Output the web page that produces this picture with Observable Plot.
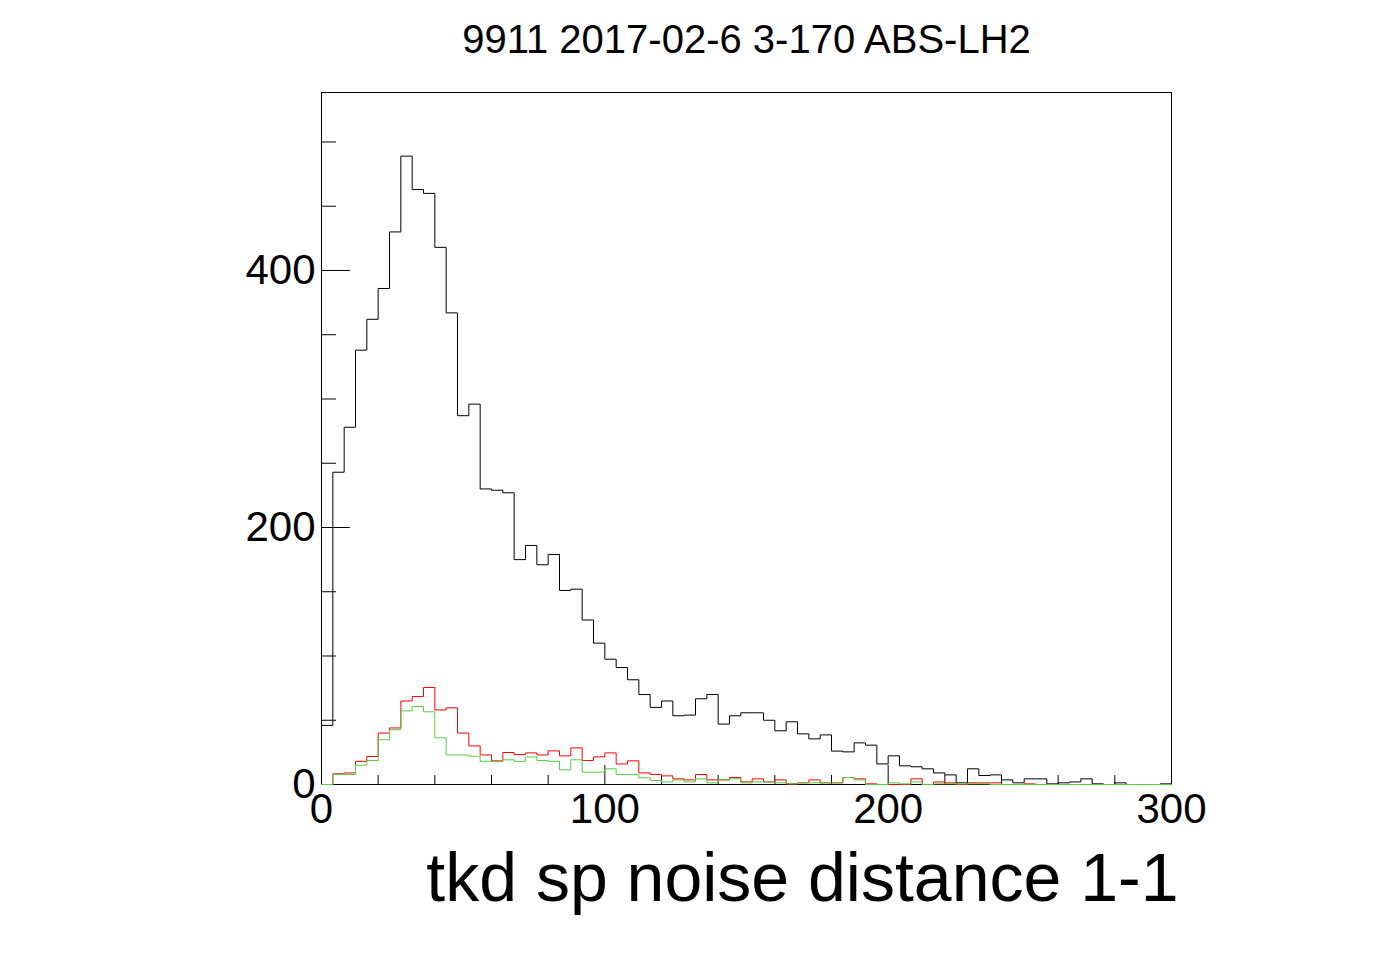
<!DOCTYPE html>
<html>
<head>
<meta charset="utf-8">
<script src="https://cdn.jsdelivr.net/npm/d3@7"></script>
<script src="https://cdn.jsdelivr.net/npm/@observablehq/plot@0.6"></script>
<style>body{margin:0;background:#fff;}</style>
</head>
<body>
<script>
const title = "9911 2017-02-6 3-170 ABS-LH2";
const xLabel = "tkd sp noise distance 1-1";
const binWidth = 4;

// 75 bins of width 4 over [0, 300]
const black = [46, 243, 278, 338, 362, 386, 430, 489, 463, 460, 418, 367, 287, 296, 230, 229, 227, 175, 186, 171,
  179, 151, 152, 128, 110, 97.5, 91, 81.5, 70, 60, 65, 53.5, 54, 66.7, 70, 47, 53.5, 55.8, 55.8, 50,
  41.8, 48.8, 39.4, 35.5, 38.6, 26, 25.4, 32.4, 30.6, 16, 22.3, 14.5, 13.8, 12.2, 9, 7.5, 1.3, 12.2, 7, 7.5,
  3.6, 1.3, 4.4, 4.4, 0.5, 1.3, 2, 4.4, 0.5, 0, 1.3, 0, 0, 0, 0.5];
const red = [0, 8.3, 9, 18, 21.8, 40, 44, 65, 68.5, 75.5, 58, 59.7, 40, 30, 23, 18.4, 24.9, 23.3, 24.6, 23,
  26.2, 22.3, 28.5, 18.7, 21.5, 24.6, 16, 18.4, 9, 7.8, 6.7, 4.4, 3.6, 7.8, 3.6, 3.6, 5.4, 2, 4.4, 2,
  3.6, 0.5, 1.3, 3.6, 1.3, 1.3, 5.4, 4.4, 0.5, 0, 0, 0, 4.4, 0, 2, 1.3, 0, 1.3, 1.3, 1.3,
  0, 0, 0.5, 0, 0, 0, 0, 0, 0, 0, 0, 0, 0, 0, 0];
const green = [0, 7.8, 7.8, 15, 18.7, 34.8, 42.6, 57.3, 60.7, 56.6, 36.3, 23, 23, 22, 18, 18, 19.2, 18, 21.5, 18.7,
  18, 11.4, 19.2, 9.6, 9.6, 12.2, 7.8, 7.8, 5.2, 3.1, 2, 3.6, 2, 4.4, 1.3, 3.6, 4.4, 1.3, 2, 2,
  1.3, 0.5, 1.3, 1.3, 1.3, 1.3, 5.4, 3.6, 0, 0, 1.3, 0.5, 2, 0, 0.5, 0.5, 0.5, 0.5, 0.5, 0,
  0, 0, 0, 0, 0, 0, 0, 0, 0, 0, 0, 0, 0, 0, 0];

const yMajor = [0, 200, 400];
const yMinor = [50, 100, 150, 250, 300, 350, 450, 500];
const xMajor = [0, 100, 200, 300];
const xMinor = d3.range(20, 300, 20).filter(d => d % 100 !== 0);

const steps = vals => vals.map((v, i) => ({x: i * binWidth, y: v}))
  .concat([{x: vals.length * binWidth, y: vals[vals.length - 1]}]);

const hist = (vals, color) => Plot.lineY(steps(vals), {x: "x", y: "y", curve: "step-after", stroke: color, strokeWidth: 1});

document.body.append(
  Plot.plot({
    width: 1396,
    height: 972,
    marginLeft: 321,
    marginRight: 225,
    marginTop: 92,
    marginBottom: 188,
    style: {fontFamily: "Liberation Sans, Arial, sans-serif", background: "#fff"},
    x: {domain: [0, 300]},
    y: {domain: [0, 538.5]},
    marks: [
      Plot.frame({stroke: "black"}),
      Plot.axisY(yMajor, {tickSize: 0, tickPadding: 6, fontSize: 42, label: null}),
      Plot.axisX(xMajor, {tickSize: 0, tickPadding: 9, fontSize: 42, label: null}),
      Plot.ruleY(yMajor, {x1: 0, x2: 10.2, stroke: "black"}),
      Plot.ruleY(yMinor, {x1: 0, x2: 5.3, stroke: "black"}),
      Plot.ruleX(xMajor, {y1: 0, y2: 14.8, stroke: "black"}),
      Plot.ruleX(xMinor, {y1: 0, y2: 7, stroke: "black"}),
      hist(black, "black"),
      hist(red, "#ff0000"),
      hist(green, "#55cc44"),
      Plot.text([title], {frameAnchor: "top", lineAnchor: "bottom", dy: -40, fontSize: 40}),
      Plot.text([xLabel], {frameAnchor: "bottom-right", textAnchor: "end", lineAnchor: "bottom", dx: 7, dy: 116, fontSize: 68})
    ]
  })
);
</script>
</body>
</html>
